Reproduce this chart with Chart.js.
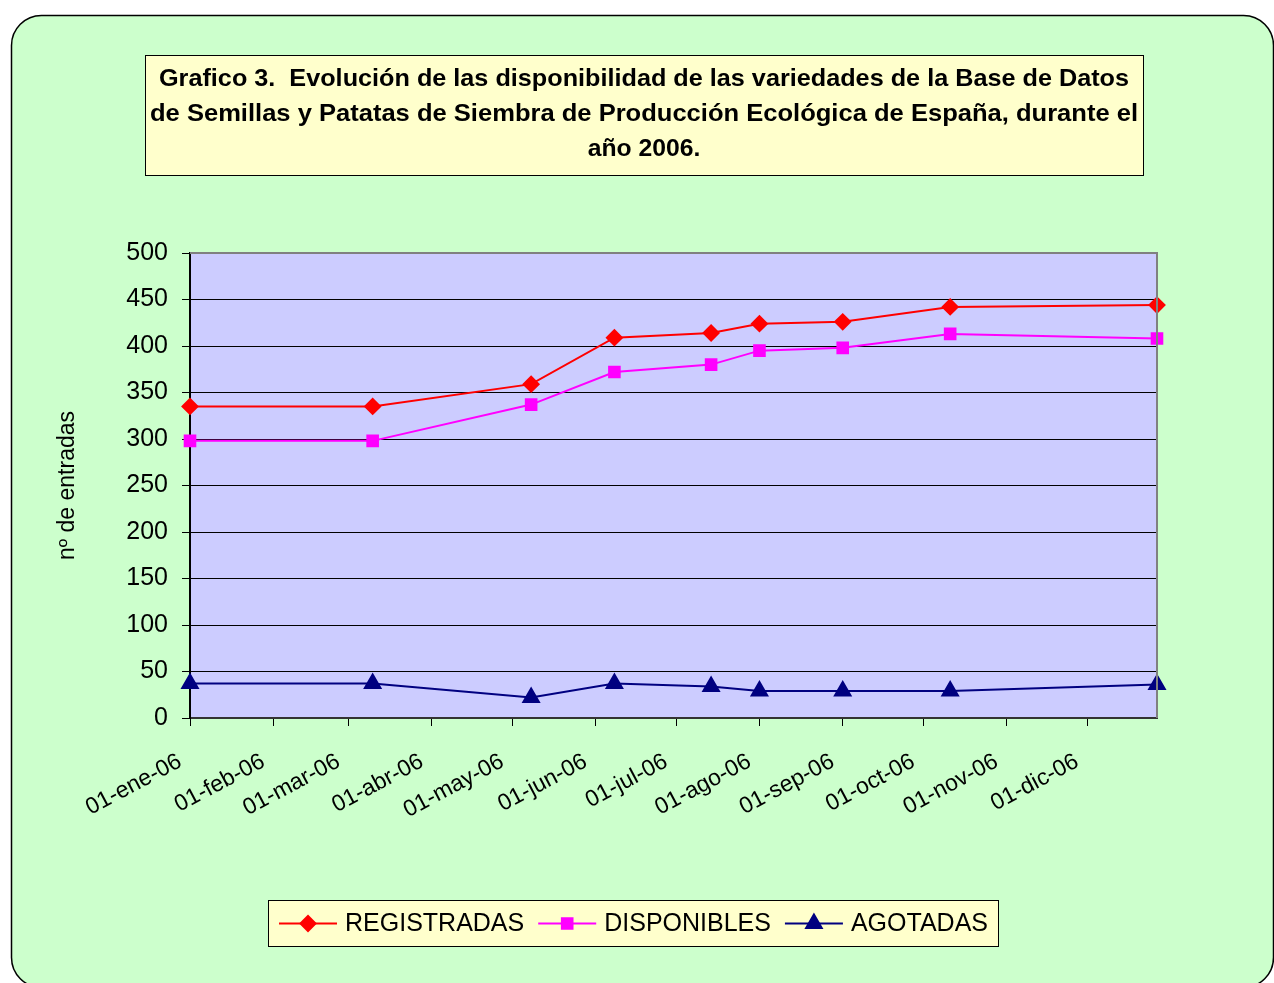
<!DOCTYPE html>
<html>
<head>
<meta charset="utf-8">
<script src="https://cdn.jsdelivr.net/npm/chart.js@4"></script>
<style>
  html, body { margin: 0; padding: 0; background: #fff; }
  #wrap { width: 1274px; height: 983px; }
</style>
</head>
<body>
<div id="wrap"><canvas id="myChart" width="1274" height="983"></canvas></div>
<script>
// data
var fechas = ['2006-01-01', '2006-03-10', '2006-05-08', '2006-06-08', '2006-07-14',
              '2006-08-01', '2006-09-01', '2006-10-11', '2006-12-27'];
var registradas = [335, 335, 359, 409, 414, 424, 426, 442, 444];
var disponibles = [298, 298, 337, 372, 380, 395, 398, 413, 408];
var agotadas = [37, 37, 22, 37, 34, 29, 29, 29, 36];
var mesLabels = ['01-ene-06', '01-feb-06', '01-mar-06', '01-abr-06', '01-may-06', '01-jun-06',
                 '01-jul-06', '01-ago-06', '01-sep-06', '01-oct-06', '01-nov-06', '01-dic-06'];
var tituloLineas = [
    'Grafico 3.  Evolución de las disponibilidad de las variedades de la Base de Datos',
    'de Semillas y Patatas de Siembra de Producción Ecológica de España, durante el',
    'año 2006.'
];

function dia(s) {
    var p = s.split('-');
    return (Date.UTC(+p[0], +p[1] - 1, +p[2]) - Date.UTC(2006, 0, 1)) / 86400000;
}
var x = fechas.map(dia);
var mesDias = mesLabels.map(function (l, i) { return dia('2006-' + (i + 1) + '-01'); });

function pts(vals) {
    return vals.map(function (v, i) { return { x: x[i], y: v }; });
}

var FONT = '"Liberation Sans", Arial, sans-serif';

var framePlugin = {
    id: 'frame',
    beforeDraw: function (chart) {
        var c = chart.ctx, a = chart.chartArea;
        c.save();
        c.fillStyle = '#ffffff';
        c.fillRect(0, 0, chart.width, chart.height);
        // rounded green panel
        c.beginPath();
        c.roundRect(11.5, 15.5, 1262, 972, 30);
        c.fillStyle = '#ccffcc';
        c.fill();
        c.lineWidth = 1.5;
        c.strokeStyle = '#000';
        c.stroke();
        // title box
        c.fillStyle = '#ffffcc';
        c.fillRect(145.5, 55.5, 998, 120);
        c.lineWidth = 1;
        c.strokeRect(145.5, 55.5, 998, 120);
        c.fillStyle = '#000';
        c.font = 'bold 24px ' + FONT;
        c.textAlign = 'center';
        c.textBaseline = 'middle';
        var anchos = [970, 988, 0];
        tituloLineas.forEach(function (t, i) {
            // the original text is a bit condensed: stretch lines to the widths seen
            var w = c.measureText(t).width;
            var k = anchos[i] ? anchos[i] / w : 1.03;
            c.save();
            c.translate(644, 79 + i * 35);
            c.scale(k, 1);
            c.fillText(t, 0, 0);
            c.restore();
        });
        // plot area
        c.fillStyle = '#ccccff';
        c.fillRect(a.left, a.top, a.right - a.left, a.bottom - a.top);
        c.restore();
    },
    afterDraw: function (chart) {
        var c = chart.ctx, a = chart.chartArea;
        c.save();
        // grey frame on top/right of plot
        c.strokeStyle = '#808080';
        c.lineWidth = 2;
        c.beginPath();
        c.moveTo(a.left, a.top);
        c.lineTo(a.right, a.top);
        c.lineTo(a.right, a.bottom);
        c.stroke();
        // legend
        var bx = 268.5, by = 900.5, bw = 730, bh = 46;
        c.fillStyle = '#ffffcc';
        c.fillRect(bx, by, bw, bh);
        c.strokeStyle = '#000';
        c.lineWidth = 1;
        c.strokeRect(bx, by, bw, bh);
        c.font = '25px ' + FONT;
        c.textBaseline = 'middle';
        c.textAlign = 'left';
        var lineLen = 58, gap1 = 8, gap2 = 14;
        var total = 0;
        chart.data.datasets.forEach(function (d, i) {
            total += lineLen + gap1 + c.measureText(d.label).width + (i < 2 ? gap2 : 0);
        });
        var cx = bx + (bw - total) / 2, cy = by + bh / 2;
        chart.data.datasets.forEach(function (d, i) {
            c.strokeStyle = d.borderColor;
            c.lineWidth = 2;
            c.beginPath();
            c.moveTo(cx, cy);
            c.lineTo(cx + lineLen, cy);
            c.stroke();
            c.fillStyle = d.pointBackgroundColor;
            c.strokeStyle = d.pointBackgroundColor;
            Chart.helpers.drawPoint(c, {
                pointStyle: d.pointStyle, radius: d.pointRadius, rotation: 0, borderWidth: 1
            }, cx + lineLen / 2, cy);
            cx += lineLen + gap1;
            c.fillStyle = '#000';
            c.fillText(d.label, cx, cy + 1);
            cx += c.measureText(d.label).width + gap2;
        });
        c.restore();
    }
};

var ctx = document.getElementById('myChart').getContext('2d');
var myChart = new Chart(ctx, {
    type: 'line',
    data: {
        datasets: [{
            label: 'REGISTRADAS',
            data: pts(registradas),
            borderColor: '#ff0000',
            backgroundColor: '#ff0000',
            pointBackgroundColor: '#ff0000',
            pointBorderColor: '#ff0000',
            pointStyle: 'rectRot',
            pointRadius: 7.5,
            borderWidth: 2,
            clip: false
        },
        {
            label: 'DISPONIBLES',
            data: pts(disponibles),
            borderColor: '#ff00ff',
            backgroundColor: '#ff00ff',
            pointBackgroundColor: '#ff00ff',
            pointBorderColor: '#ff00ff',
            pointStyle: 'rect',
            pointRadius: 7.5,
            borderWidth: 2,
            clip: false
        },
        {
            label: 'AGOTADAS',
            data: pts(agotadas),
            borderColor: '#000080',
            backgroundColor: '#000080',
            pointBackgroundColor: '#000080',
            pointBorderColor: '#000080',
            pointStyle: 'triangle',
            pointRadius: 9,
            borderWidth: 2,
            clip: false
        }]
    },
    options: {
        responsive: false,
        animation: false,
        layout: {
            padding: { left: 50, right: 117, top: 253, bottom: 145 }
        },
        plugins: {
            legend: { display: false },
            title: { display: false },
            tooltip: { enabled: false }
        },
        scales: {
            x: {
                type: 'linear',
                min: 0,
                max: x[x.length - 1],
                afterBuildTicks: function (scale) {
                    scale.ticks = mesDias.map(function (v) { return { value: v }; });
                },
                afterFit: function (scale) { scale.height = 120; },
                ticks: {
                    autoSkip: false,
                    minRotation: 28,
                    maxRotation: 28,
                    padding: 22,
                    labelOffset: -10,
                    color: '#000',
                    font: { family: FONT, size: 23 },
                    callback: function (v, i) { return mesLabels[i]; }
                },
                grid: {
                    drawOnChartArea: false,
                    drawTicks: true,
                    tickLength: 8,
                    color: '#000'
                },
                border: { color: '#333', width: 2 }
            },
            y: {
                min: 0,
                max: 500,
                afterFit: function (scale) { scale.width = 140; },
                ticks: {
                    stepSize: 50,
                    padding: 14,
                    color: '#000',
                    font: { family: FONT, size: 25 }
                },
                grid: {
                    color: '#000',
                    lineWidth: 1,
                    tickLength: 8
                },
                border: { color: '#000', width: 2 },
                title: {
                    display: true,
                    text: 'nº de entradas',
                    color: '#000',
                    padding: { top: 4, bottom: 0 },
                    font: { family: FONT, size: 23 }
                }
            }
        }
    },
    plugins: [framePlugin]
});
</script>
</body>
</html>
